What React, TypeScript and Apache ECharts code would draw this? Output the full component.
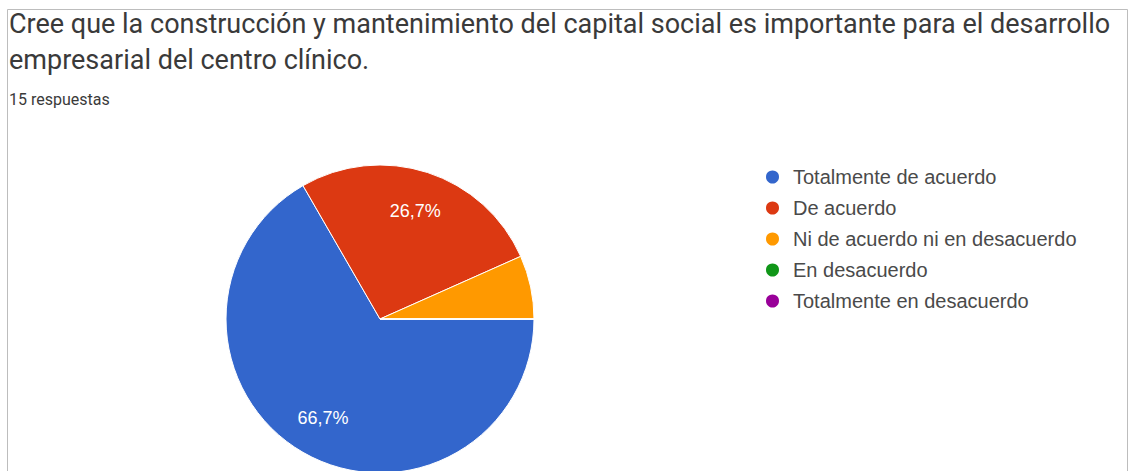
import React, { useEffect, useRef } from "react";
import * as echarts from "echarts";

const titleLines = [
  "Cree que la construcción y mantenimiento del capital social es importante para el desarrollo",
  "empresarial del centro clínico.",
];
const subtitle = "15 respuestas";
const categories = [
  "Totalmente de acuerdo",
  "De acuerdo",
  "Ni de acuerdo ni en desacuerdo",
  "En desacuerdo",
  "Totalmente en desacuerdo",
];
const counts = [10, 4, 1, 0, 0];
const colors = ["#3366cc", "#dc3912", "#ff9900", "#109618", "#990099"];

export default function App() {
  const ref = useRef<HTMLDivElement>(null);
  useEffect(() => {
    if (!ref.current) return;
    const chart = echarts.init(ref.current, null, { renderer: "svg" });
    const total = counts.reduce((a, b) => a + b, 0);
    const data = categories.map((name, i) => ({
      name,
      value: counts[i],
      itemStyle: { color: colors[i] },
    }));
    chart.setOption({
      animation: false,
      backgroundColor: "#ffffff",
      title: [
        {
          text: titleLines.join("\n"),
          left: 9,
          top: 6,
          padding: 0,
          textStyle: {
            fontFamily: "Roboto",
            fontSize: 27,
            fontWeight: "normal",
            color: "#3a3a3a",
            lineHeight: 36,
          },
        },
        {
          text: subtitle,
          left: 9,
          top: 91,
          padding: 0,
          textStyle: {
            fontFamily: "Roboto",
            fontSize: 16,
            fontWeight: "normal",
            color: "#3a3a3a",
          },
        },
      ],
      legend: {
        orient: "vertical",
        left: 764,
        top: 167,
        padding: 0,
        icon: "circle",
        itemWidth: 15,
        itemHeight: 15,
        itemGap: 11,
        selectedMode: false,
        textStyle: {
          fontFamily: "Liberation Sans, Arial",
          fontSize: 20,
          color: "#4a4a4a",
          padding: [0, 0, 0, 8],
        },
        data: categories,
      },
      graphic: [
        {
          type: "polyline",
          shape: { points: [[7.5, 480], [7.5, 9.5], [1127.5, 9.5], [1127.5, 480]] },
          style: { stroke: "#bdbdbd", lineWidth: 1, fill: "none" },
          silent: true,
        },
      ],
      series: [
        {
          type: "pie",
          center: [380, 319],
          radius: 154,
          startAngle: 0,
          clockwise: true,
          avoidLabelOverlap: false,
          label: { show: false },
          labelLine: { show: false },
          itemStyle: { borderColor: "#ffffff", borderWidth: 1 },
          emphasis: { disabled: true },
          data,
        },
        {
          type: "pie",
          center: [380, 319],
          radius: [68, 154],
          startAngle: 0,
          clockwise: true,
          avoidLabelOverlap: false,
          silent: true,
          itemStyle: { color: "rgba(0,0,0,0)", borderWidth: 0 },
          label: {
            show: true,
            position: "inside",
            fontFamily: "Liberation Sans, Arial",
            fontSize: 18,
            color: "#ffffff",
            formatter: (p: any) =>
              p.value / total >= 0.1
                ? ((p.value / total) * 100).toFixed(1).replace(".", ",") + "%"
                : "",
          },
          labelLine: { show: false },
          emphasis: { disabled: true },
          data: categories.map((name, i) => ({
            name: name + " ",
            value: counts[i],
            itemStyle: { color: "rgba(0,0,0,0)" },
          })),
        },
      ],
    });
    return () => chart.dispose();
  }, []);
  return (
    <div
      ref={ref}
      style={{ position: "absolute", left: 0, top: 0, width: 1133, height: 471 }}
    />
  );
}
